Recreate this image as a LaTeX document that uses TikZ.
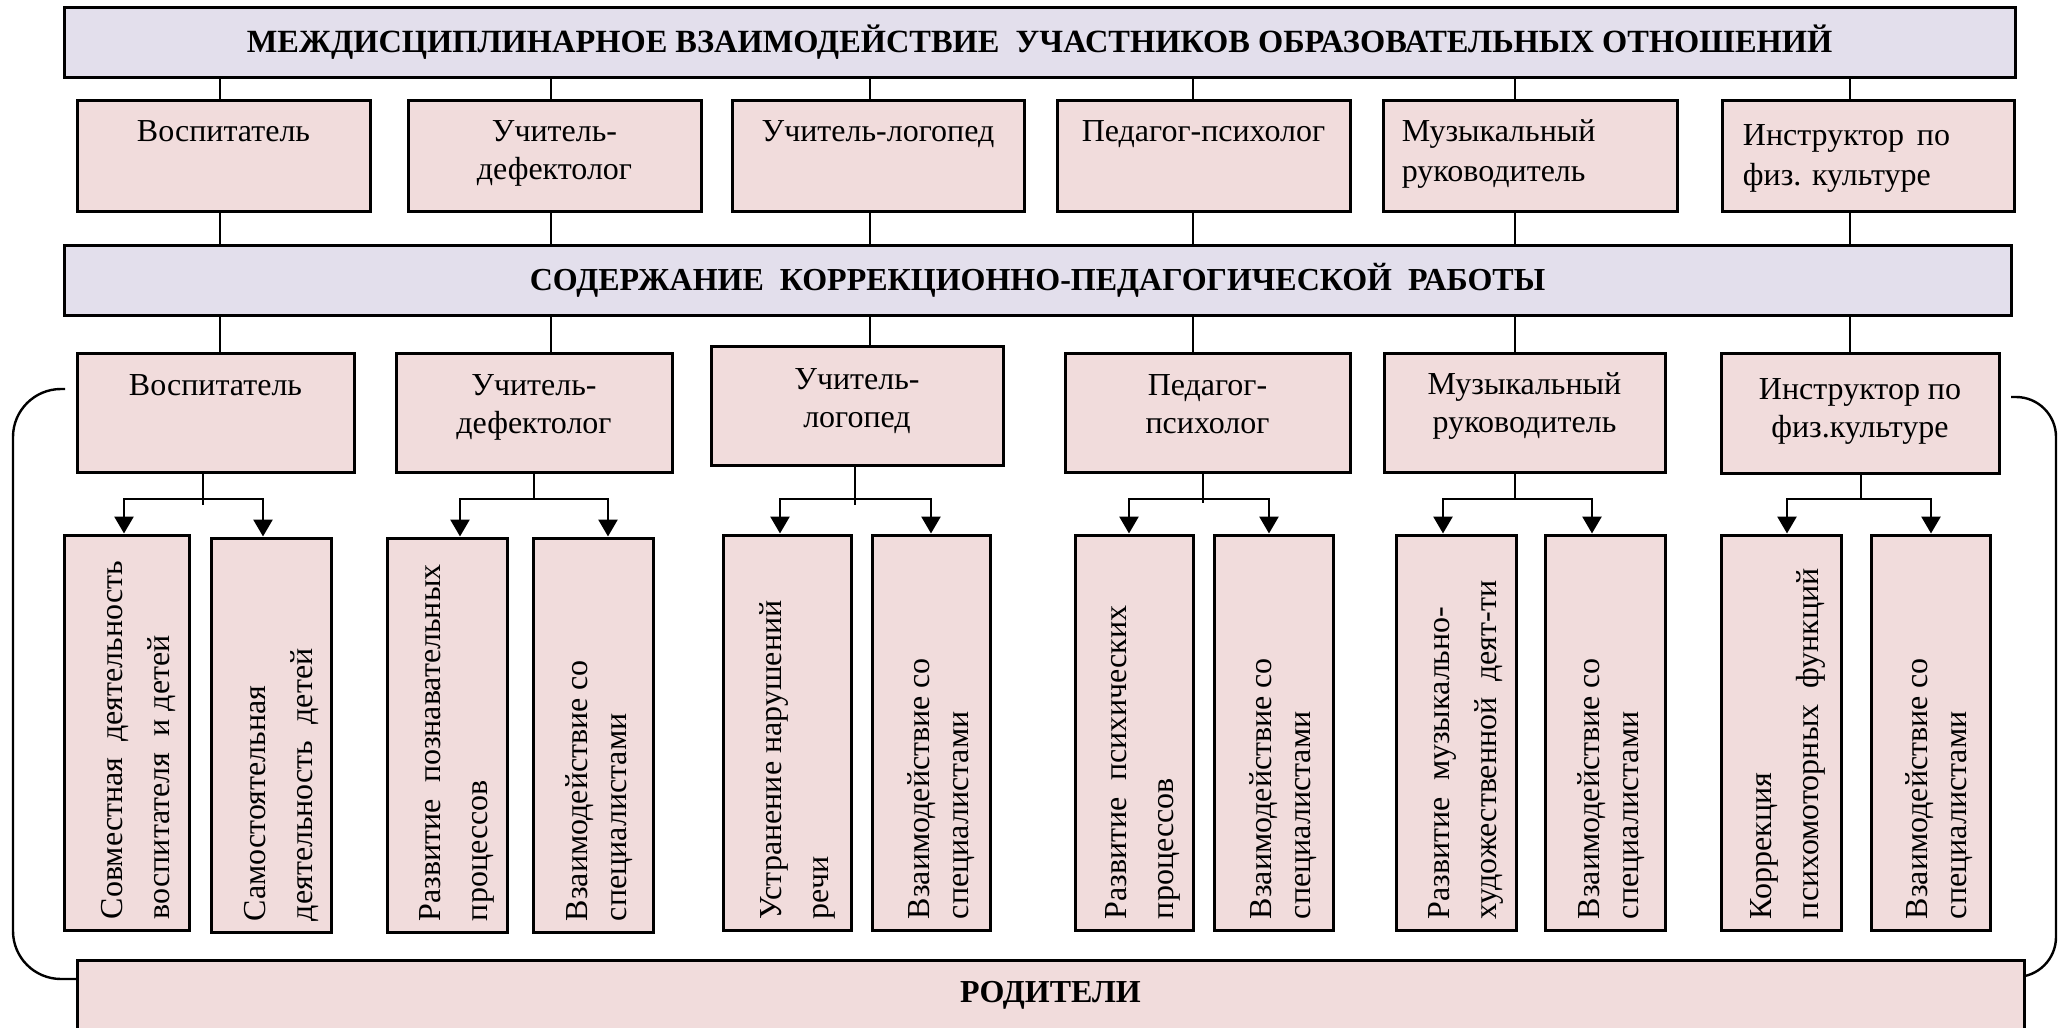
\documentclass[tikz,border=0pt]{standalone}
\usepackage{fontspec}
\setmainfont{Liberation Serif}
\usetikzlibrary{arrows.meta}
\definecolor{pinkbox}{RGB}{241,220,220}
\definecolor{lavband}{RGB}{227,223,236}
\newcommand\mkbox[7]{\node[#6, minimum width={(#4-#2)*0.5pt}, minimum height={(#5-#3)*0.5pt}] (#1) at ({(#2+#4)/2},{(#3+#5)/2}) {#7};}
\begin{document}
\begin{tikzpicture}[x=0.5pt,y=-0.5pt,
  band/.style={draw, line width=1.5pt, fill=lavband, inner sep=0pt, font=\bfseries\fontsize{16}{18.5}\selectfont},
  pbox/.style={draw, line width=1.5pt, fill=pinkbox, inner sep=0pt},
  lbl/.style={inner sep=0pt, font=\fontsize{16}{19}\selectfont, align=center, anchor=north},
  lbll/.style={inner sep=0pt, font=\fontsize{16}{20}\selectfont, align=left, anchor=north west},
  vlbl/.style={inner sep=0pt, font=\fontsize{16}{23.5}\selectfont, align=left, rotate=90, anchor=west},
  vlbls/.style={vlbl, font=\fontsize{16}{19.5}\selectfont},
  stem/.style={line width=1pt},
  arr/.style={line width=1.4pt, {Triangle[width=9.5pt,length=8.5pt]}-{Triangle[width=9.5pt,length=8.5pt]}},
  brace/.style={line width=1.2pt}
]
\useasboundingbox (0,0) rectangle (2058,1028);

% bracket round the lower part
\draw[brace, rounded corners=24pt] (65,389) -- (13,389) -- (13,979) -- (90,979);
\draw[brace, rounded corners=20pt] (2011,397) -- (2056,397) -- (2056,977) -- (2000,977);

% banners
\mkbox{top}{64}{7}{2015}{77}{band, font=\bfseries\fontsize{16.2}{18.5}\selectfont}{МЕЖДИСЦИПЛИНАРНОЕ ВЗАИМОДЕЙСТВИЕ~~УЧАСТНИКОВ ОБРАЗОВАТЕЛЬНЫХ ОТНОШЕНИЙ}
\mkbox{mid}{64}{245}{2011}{315}{band}{СОДЕРЖАНИЕ~~КОРРЕКЦИОННО-ПЕДАГОГИЧЕСКОЙ~~РАБОТЫ}

% row 1
\mkbox{r1}{77}{100}{370}{211}{pbox}{}
\mkbox{r2}{408}{100}{701}{211}{pbox}{}
\mkbox{r3}{732}{100}{1024}{211}{pbox}{}
\mkbox{r4}{1057}{100}{1350}{211}{pbox}{}
\mkbox{r5}{1383}{100}{1677}{211}{pbox}{}
\mkbox{r6}{1722}{100}{2014}{211}{pbox}{}
\node[lbl] (r1t) at ([yshift=-11pt]r1.north) {Воспитатель};
\node[lbl] (r2t) at ([yshift=-11pt]r2.north) {Учитель-\\дефектолог};
\node[lbl] (r3t) at ([yshift=-11pt]r3.north) {Учитель-логопед};
\node[lbl] (r4t) at ([yshift=-11pt]r4.north) {Педагог-психолог};
\node[lbll] (r5t) at ([xshift=10pt,yshift=-10.5pt]r5.north west) {Музыкальный\\руководитель};
\node[lbll] (r6t) at ([xshift=11pt,yshift=-13pt]r6.north west) {Инструктор\kern6.5pt по\\физ. культуре};

% row 2
\mkbox{q1}{77}{353}{354}{472}{pbox}{}
\mkbox{q2}{396}{353}{672}{472}{pbox}{}
\mkbox{q3}{711}{346}{1003}{465}{pbox}{}
\mkbox{q4}{1065}{353}{1350}{472}{pbox}{}
\mkbox{q5}{1384}{353}{1665}{472}{pbox}{}
\mkbox{q6}{1721}{353}{1999}{473}{pbox}{}
\node[lbl] (q1t) at ([yshift=-11.5pt]q1.north) {Воспитатель};
\node[lbl] (q2t) at ([yshift=-11.5pt]q2.north) {Учитель-\\дефектолог};
\node[lbl] (q3t) at ([yshift=-12pt]q3.north) {Учитель-\\логопед};
\node[lbl] (q4t) at ([yshift=-11.5pt]q4.north) {Педагог-\\психолог};
\node[lbl] (q5t) at ([yshift=-10.5pt]q5.north) {Музыкальный\\руководитель};
\node[lbl] (q6t) at ([yshift=-13.5pt]q6.north) {Инструктор по\\физ.культуре};

% stems between banners and rows
\foreach \i/\sx in {1/220,2/551,3/870,4/1193,5/1515,6/1850} {
  \coordinate (s\i) at (\sx,0);
  \draw[stem] (top.south -| s\i) -- (r\i.north -| s\i);
  \draw[stem] (r\i.south -| s\i) -- (mid.north -| s\i);
  \draw[stem] (mid.south -| s\i) -- (q\i.north -| s\i);
}

% children
\mkbox{a1}{64}{535}{189}{930}{pbox}{}
\mkbox{b1}{211}{538}{331}{932}{pbox}{}
\mkbox{a2}{387}{538}{507}{932}{pbox}{}
\mkbox{b2}{533}{538}{653}{932}{pbox}{}
\mkbox{a3}{723}{535}{851}{930}{pbox}{}
\mkbox{b3}{872}{535}{990}{930}{pbox}{}
\mkbox{a4}{1075}{535}{1193}{930}{pbox}{}
\mkbox{b4}{1214}{535}{1333}{930}{pbox}{}
\mkbox{a5}{1396}{535}{1516}{930}{pbox}{}
\mkbox{b5}{1545}{535}{1665}{930}{pbox}{}
\mkbox{a6}{1721}{535}{1841}{930}{pbox}{}
\mkbox{b6}{1871}{535}{1990}{930}{pbox}{}

\node[vlbl] (a1t) at ([xshift=6pt,yshift=6pt]a1.south) {Совместная~~деятельность\\воспитателя~~и детей};
\node[vlbl] (b1t) at ([xshift=5pt,yshift=6pt]b1.south) {Самостоятельная\\деятельность~~детей};
\node[vlbl] (a2t) at ([xshift=5pt,yshift=6pt]a2.south) {Развитие~~познавательных\\процессов};
\node[vlbls] (b2t) at ([xshift=3.3pt,yshift=6pt]b2.south) {Взаимодействие со\\специалистами};
\node[vlbl] (a3t) at ([xshift=5pt,yshift=6pt]a3.south) {Устранение нарушений\\речи};
\node[vlbls] (b3t) at ([xshift=5pt,yshift=6pt]b3.south) {Взаимодействие со\\специалистами};
\node[vlbl] (a4t) at ([xshift=4.5pt,yshift=6pt]a4.south) {Развитие~~психических\\процессов};
\node[vlbls] (b4t) at ([xshift=5pt,yshift=6pt]b4.south) {Взаимодействие со\\специалистами};
\node[vlbl] (a5t) at ([xshift=5pt,yshift=6pt]a5.south) {Развитие~~музыкально-\\художественной~~деят-ти};
\node[vlbls] (b5t) at ([xshift=3.3pt,yshift=6pt]b5.south) {Взаимодействие со\\специалистами};
\node[vlbl] (a6t) at ([xshift=3.5pt,yshift=6pt]a6.south) {Коррекция\\психомоторных~~функций};
\node[vlbls] (b6t) at ([xshift=4.3pt,yshift=6pt]b6.south) {Взаимодействие со\\специалистами};

% forks with arrows
\foreach \i/\tx/\al/\ar/\ty in {1/203/124/263/505,2/534/460/608/499,3/855/780/931/505,4/1203/1129/1269/503,5/1515/1443/1592/499,6/1861/1787/1931/499} {
  \coordinate (t\i) at (\tx,\ty);
  \coordinate (l\i) at (\al,499);
  \coordinate (k\i) at (\ar,499);
  \draw[stem, line width=1.2pt] (q\i.south -| t\i) -- (t\i);
  \draw[arr] (a\i.north -| l\i) -- (l\i) -- (k\i) -- (b\i.north -| k\i);
}

% parents
\mkbox{par}{77}{960}{2024}{1060}{pbox}{}
\node[inner sep=0pt, font=\bfseries\fontsize{16}{18.5}\selectfont] (part) at ([yshift=-18.5pt]par.north) {РОДИТЕЛИ};
\end{tikzpicture}
\end{document}
